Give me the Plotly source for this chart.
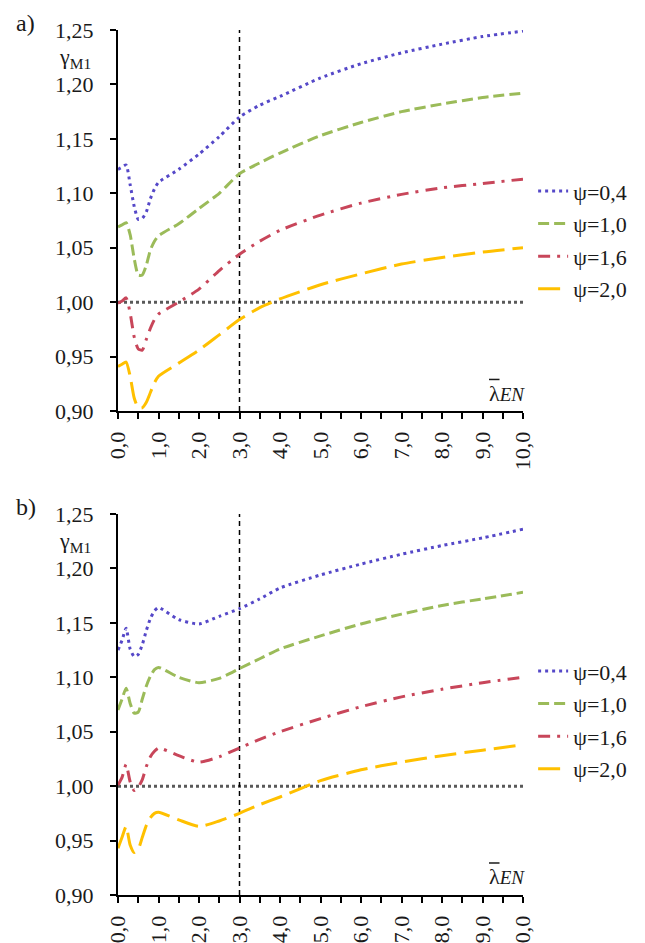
import plotly.graph_objects as go

# ---------------- data ----------------
lam = [0, 0.1, 0.2, 0.3, 0.4, 0.5, 0.6, 0.7, 0.8, 0.9, 1.0, 1.5, 2.0, 2.5, 3.0, 3.5, 4.0, 5, 6, 7, 8, 9, 10]

series_names = ["ψ=0,4", "ψ=1,0", "ψ=1,6", "ψ=2,0"]

# panel a)
a_psi04 = [1.122, 1.124, 1.126, 1.108, 1.088, 1.076, 1.077, 1.083, 1.095, 1.104, 1.110, 1.122, 1.136, 1.152, 1.170, 1.181, 1.189, 1.206, 1.219, 1.229, 1.237, 1.244, 1.249]
a_psi10 = [1.069, 1.071, 1.073, 1.062, 1.040, 1.025, 1.025, 1.034, 1.048, 1.056, 1.061, 1.072, 1.086, 1.100, 1.118, 1.128, 1.137, 1.153, 1.165, 1.175, 1.182, 1.188, 1.192]
a_psi16 = [0.999, 1.001, 1.004, 0.990, 0.968, 0.957, 0.956, 0.966, 0.976, 0.984, 0.989, 1.000, 1.012, 1.029, 1.044, 1.056, 1.066, 1.080, 1.091, 1.099, 1.105, 1.109, 1.113]
a_psi20 = [0.941, 0.943, 0.945, 0.932, 0.912, 0.903, 0.903, 0.908, 0.917, 0.926, 0.932, 0.944, 0.956, 0.970, 0.984, 0.995, 1.003, 1.016, 1.026, 1.035, 1.041, 1.046, 1.050]

# panel b)
b_psi04 = [1.125, 1.134, 1.145, 1.126, 1.119, 1.121, 1.130, 1.143, 1.154, 1.161, 1.164, 1.153, 1.149, 1.156, 1.163, 1.172, 1.182, 1.194, 1.204, 1.213, 1.221, 1.228, 1.236]
b_psi10 = [1.070, 1.080, 1.090, 1.076, 1.067, 1.068, 1.080, 1.092, 1.101, 1.107, 1.109, 1.100, 1.095, 1.099, 1.108, 1.117, 1.126, 1.138, 1.149, 1.158, 1.166, 1.172, 1.178]
b_psi16 = [1.001, 1.008, 1.020, 1.004, 0.996, 0.999, 1.006, 1.018, 1.027, 1.032, 1.035, 1.028, 1.022, 1.027, 1.035, 1.043, 1.050, 1.062, 1.073, 1.082, 1.089, 1.095, 1.100]
b_psi20 = [0.943, 0.953, 0.963, 0.946, 0.939, 0.942, 0.953, 0.964, 0.971, 0.975, 0.976, 0.969, 0.963, 0.968, 0.975, 0.983, 0.990, 1.005, 1.015, 1.022, 1.028, 1.033, 1.038]

ref_x = [0, 10]
ref_y = [1.0, 1.0]
vline_x = [3, 3]
vline_y = [0.90, 1.25]

y_tickvals = [0.90, 0.95, 1.00, 1.05, 1.10, 1.15, 1.20, 1.25]
y_ticktext = ["0,90", "0,95", "1,00", "1,05", "1,10", "1,15", "1,20", "1,25"]
x_tickvals = [0, 1, 2, 3, 4, 5, 6, 7, 8, 9, 10]
x_ticktext = ["0,0", "1,0", "2,0", "3,0", "4,0", "5,0", "6,0", "7,0", "8,0", "9,0", "10,0"]
x_minor = [0.5, 1.5, 2.5, 3.5, 4.5, 5.5, 6.5, 7.5, 8.5, 9.5]

# ---------------- styles ----------------
FONT = "Liberation Serif"
colors = ["#5548C8", "#9BBB59", "#C8465A", "#FFC000"]
dashes = ["3px,4px", "11px,5px", "12px,7px,3px,7px", "22px,8px"]

fig = go.Figure()

panels = [
    ("x", "y", "legend", [a_psi04, a_psi10, a_psi16, a_psi20]),
    ("x2", "y2", "legend2", [b_psi04, b_psi10, b_psi16, b_psi20]),
]

for xa, ya, leg, data in panels:
    fig.add_trace(go.Scatter(x=ref_x, y=ref_y, mode="lines", xaxis=xa, yaxis=ya,
                             line=dict(color="#595959", width=3, dash="3px,3px"),
                             showlegend=False, hoverinfo="skip"))
    fig.add_trace(go.Scatter(x=vline_x, y=vline_y, mode="lines", xaxis=xa, yaxis=ya,
                             line=dict(color="black", width=1.5, dash="5px,4px"),
                             showlegend=False, hoverinfo="skip"))
    for i, (name, yv) in enumerate(zip(series_names, data)):
        fig.add_trace(go.Scatter(x=lam, y=yv, mode="lines", name=name, xaxis=xa, yaxis=ya,
                                 legend=leg, legendgroup=leg + str(i),
                                 line=dict(color=colors[i], width=3, dash=dashes[i],
                                           shape="spline", smoothing=0.6)))

TICKFONT = dict(family=FONT, size=22, color="#1a1a1a")

def xaxis_cfg(anchor):
    return dict(domain=[0, 1], anchor=anchor, range=[0, 10], showgrid=False, zeroline=False,
                automargin=False,
                showline=True, linecolor="black", linewidth=2,
                ticks="outside", ticklen=6, tickwidth=1.5, tickcolor="black",
                tickvals=x_tickvals, ticktext=x_ticktext, tickangle=-90,
                ticklabelstandoff=4, tickfont=TICKFONT,
                minor=dict(tickvals=x_minor, ticks="outside", ticklen=6, tickwidth=1.5, tickcolor="black"))

def yaxis_cfg(anchor, dom):
    return dict(domain=dom, anchor=anchor, range=[0.90, 1.25], showgrid=False, zeroline=False,
                automargin=False,
                showline=True, linecolor="black", linewidth=2,
                ticks="outside", ticklen=6, tickwidth=1.5, tickcolor="black",
                tickvals=y_tickvals, ticktext=y_ticktext,
                ticklabelstandoff=12, tickfont=TICKFONT)

legend_cfg = dict(xanchor="left", yanchor="top", bgcolor="rgba(0,0,0,0)",
                  font=dict(family=FONT, size=22, color="#1a1a1a"),
                  tracegroupgap=1, itemwidth=30)

# page body has an 8px margin: shift the figure so the plot sits where the reference has it
fig.update_layout(
    width=637, height=935, autosize=False,
    margin=dict(l=110, r=122, t=22, b=48, autoexpand=False),
    paper_bgcolor="white", plot_bgcolor="white",
    font=dict(family=FONT, size=22, color="#1a1a1a"),
    xaxis=xaxis_cfg("y"), yaxis=yaxis_cfg("x", [0.5595, 1]),
    xaxis2=xaxis_cfg("y2"), yaxis2=yaxis_cfg("x2", [0, 0.4405]),
    legend=dict(x=1.025, y=0.838, **legend_cfg),
    legend2=dict(x=1.025, y=0.283, **legend_cfg),
)

ann_font = dict(family=FONT, size=22, color="#1a1a1a")
for label, ylab, ygam, ylam, ybar in [("a)", 1.008, 0.968, 0.580, 0.596),
                                       ("b)", 0.448, 0.408, 0.021, 0.037)]:
    fig.add_annotation(text=label, xref="paper", yref="paper", x=-0.256, y=ylab,
                       xanchor="left", yanchor="middle", showarrow=False,
                       font=dict(family=FONT, size=24, color="#1a1a1a"))
    fig.add_annotation(text="γ<sub>M1</sub>", xref="paper", yref="paper", x=-0.062, y=ygam,
                       xanchor="right", yanchor="middle", showarrow=False, font=ann_font)
    fig.add_annotation(text="λ<i><span style='font-size:19px'>EN</span></i>", xref="paper", yref="paper",
                       x=0.912, y=ylam, xanchor="left", yanchor="middle", showarrow=False, font=ann_font)
    fig.add_shape(type="line", xref="paper", yref="paper", x0=0.916, x1=0.942, y0=ybar, y1=ybar,
                  line=dict(color="#1a1a1a", width=1.5))

fig.write_html("out.html")
